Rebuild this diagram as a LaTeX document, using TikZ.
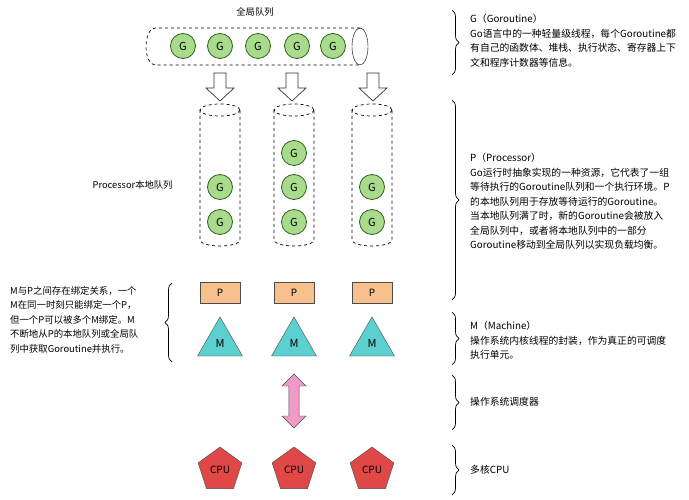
\documentclass[tikz,border=0pt]{standalone}
\usepackage{fontspec}
\setmainfont{Noto Sans CJK SC}
\usetikzlibrary{shapes.geometric,shapes.arrows,decorations.pathreplacing}
\definecolor{gfill}{HTML}{A8DC8C}\definecolor{gline}{HTML}{2E5E1E}
\definecolor{pfill}{HTML}{F7C08C}\definecolor{mfill}{HTML}{5CCFCF}
\definecolor{cfill}{HTML}{E04848}\definecolor{pink}{HTML}{F09AC8}
\begin{document}
\begin{tikzpicture}[x=1pt,y=-1pt,
 g/.style={circle,draw=gline,fill=gfill,line width=0.8pt,minimum size=25pt,inner sep=0pt,font=\fontsize{11}{11}\selectfont},
 pbox/.style={draw=black!70,fill=pfill,minimum width=40pt,minimum height=21pt,inner sep=0pt,font=\fontsize{10}{10}\selectfont},
 mtri/.style={regular polygon,regular polygon sides=3,draw=black!70,fill=mfill,minimum size=52pt,inner sep=0pt,font=\fontsize{11}{11}\selectfont},
 cpu/.style={regular polygon,regular polygon sides=5,draw=black!70,fill=cfill,minimum size=46pt,inner sep=0pt,font=\fontsize{10}{10}\selectfont},
 dsh/.style={dashed,line width=0.7pt},
 brc/.style={decorate,decoration={brace,amplitude=7pt},line width=0.7pt},
 txt/.style={font=\fontsize{9.8}{14.5}\selectfont,align=left,anchor=north west,inner sep=0pt},
 harrow/.style={draw=black!80,fill=white,line width=0.7pt}]
\useasboundingbox (0,0) rectangle (689,500);
% global queue
\node[font=\fontsize{9.3}{10}\selectfont] (gq) at (255,12) {全局队列};
\draw[dsh] (360,28) -- (155,28) arc[start angle=270,end angle=90,x radius=9,y radius=18.5] -- (360,65);
\draw (360,46.5) ellipse[x radius=8,y radius=18.5];
\foreach \x [count=\i] in {183,220,258,297,333} \node[g] (gg\i) at (\x,46) {G};
% arrows
\foreach \x [count=\i] in {220,292,373}
 \draw[harrow] (\x-6,73) -- (\x+6,73) -- (\x+6,88) -- (\x+14,88) -- (\x,101) -- (\x-14,88) -- (\x-6,88) -- cycle;
% local cylinders
\foreach \x [count=\i] in {220,294,372}{
 \draw[dsh] (\x,110) ellipse[x radius=20,y radius=6];
 \draw[dsh] (\x-20,110) -- (\x-20,240) arc[start angle=180,end angle=0,x radius=20,y radius=6] -- (\x+20,110);
 \node[g] (l\i a) at (\x,222) {G};
 \node[g] (l\i b) at (\x,187) {G};
 \node[pbox] (p\i) at (\x,293) {P};
 \node[mtri] (m\i) at (\x,343) {M};
 \node[cpu] (c\i) at (\x,470) {CPU};
}
\node[g] (l2c) at (294,153) {G};
\node[font=\fontsize{9.3}{10}\selectfont,anchor=east] (plq) at (176,185) {Processor本地队列};
% double arrow
\node[double arrow,draw=black!70,fill=pink,rotate=90,minimum height=54pt,minimum width=24pt,double arrow head extend=3pt,inner sep=2pt] (da) at (294,401) {};
% right braces
\draw[brc] (452,10) -- (452,75);
\draw[brc] (452,100) -- (452,300);
\draw[brc] (452,312) -- (452,365);
\draw[brc] (452,375) -- (452,430);
\draw[brc] (452,445) -- (452,495);
\node[txt] (tg) at (470,14) {G（Goroutine）\\Go语言中的一种轻量级线程，每个Goroutine都\\有自己的函数体、堆栈、执行状态、寄存器上下\\文和程序计数器等信息。};
\node[txt] (tp) at (470,153) {P（Processor）\\Go运行时抽象实现的一种资源，它代表了一组\\等待执行的Goroutine队列和一个执行环境。P\\的本地队列用于存放等待运行的Goroutine。\\当本地队列满了时，新的Goroutine会被放入\\全局队列中，或者将本地队列中的一部分\\Goroutine移动到全局队列以实现负载均衡。};
\node[txt] (tm) at (470,321) {M（Machine）\\操作系统内核线程的封装，作为真正的可调度\\执行单元。};
\node[txt,anchor=west] (ts) at (470,402) {操作系统调度器};
\node[txt,anchor=west] (tc) at (470,470) {多核CPU};
% left brace
\draw[brc] (172,362) -- (172,283);
\node[txt,font=\fontsize{9.4}{14.5}\selectfont] (tl) at (10,286) {M与P之间存在绑定关系，一个\\M在同一时刻只能绑定一个P，\\但一个P可以被多个M绑定。M\\不断地从P的本地队列或全局队\\列中获取Goroutine并执行。};
\end{tikzpicture}
\end{document}
